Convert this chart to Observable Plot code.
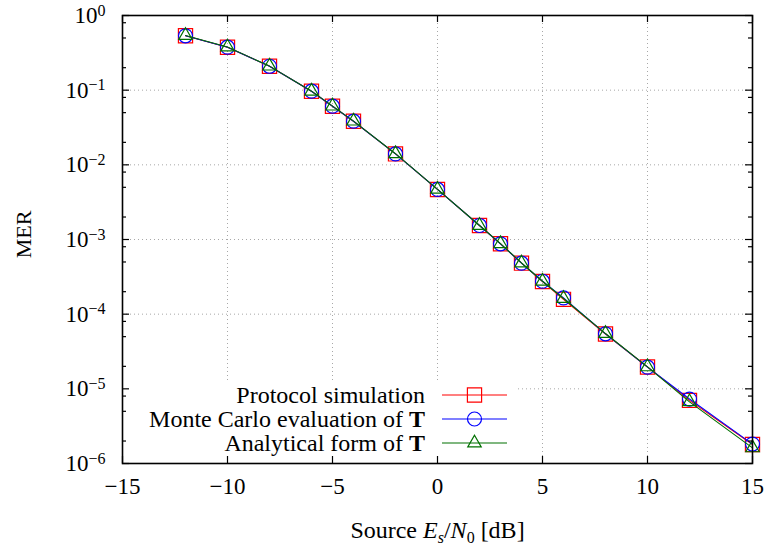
<!DOCTYPE html>
<html><head><meta charset="utf-8">
<script src="https://cdn.jsdelivr.net/npm/d3@7"></script>
<script src="https://cdn.jsdelivr.net/npm/@observablehq/plot@0.6"></script>
<style>body{margin:0;background:#fff} #chart svg{display:block}</style>
</head><body><div id="chart"></div>
<script>
// ---- data ----
const snr = [-12, -10, -8, -6, -5, -4, -2, 0, 2, 3, 4, 5, 6, 8, 10, 12, 15];
const protocolMER   = [0.535, 0.376, 0.209, 0.0969, 0.061, 0.0384, 0.0140, 0.00468, 0.00154, 0.000876, 0.000482, 0.000274, 0.000158, 5.43e-5, 1.96e-5, 7.0e-6, 1.80e-6];
const monteCarloMER = [0.535, 0.376, 0.209, 0.0969, 0.061, 0.0384, 0.0140, 0.00468, 0.00154, 0.000876, 0.000482, 0.000276, 0.000165, 5.45e-5, 1.95e-5, 7.3e-6, 1.82e-6];
const analyticalMER = [0.540, 0.378, 0.210, 0.0970, 0.0612, 0.0385, 0.0141, 0.00470, 0.00154, 0.000880, 0.000485, 0.000276, 0.000162, 5.50e-5, 1.97e-5, 6.7e-6, 1.62e-6];
const xTicks = [-15, -10, -5, 0, 5, 10, 15];
const yExponents = [-6, -5, -4, -3, -2, -1, 0];
const minorMantissas = [2, 5, 8];
const seriesNames = ["Protocol simulation", "Monte Carlo evaluation of T", "Analytical form of T"];
const seriesColors = ["#ff0000", "#0000ff", "#007000"];
const seriesSymbols = ["square", "circle", "triangle"];
const seriesValues = [protocolMER, monteCarloMER, analyticalMER];
const xLabel = "Source Es/N0 [dB]";
const yLabel = "MER";

// ---- layout ----
const W = 765, H = 545, mL = 122, mR = 13, mT = 15, mB = 82;
const innerW = W - mL - mR, innerH = H - mT - mB;
const FONT = "'Liberation Serif', 'DejaVu Serif', serif";
const seriesR = [8, 7, 5];

const yMajor = yExponents.map(e => 10 ** e);
const yMinor = yExponents.slice(0, -1).flatMap(e => minorMantissas.map(m => m * 10 ** e));

const rows = seriesNames.map((name, i) => snr.map((x, j) => ({series: name, x, y: seriesValues[i][j]})));

const gridStyle = {stroke: "#a8a8a8", strokeOpacity: 1, strokeWidth: 1, strokeDasharray: "1,3"};
const majorLen = 7, minorLen = 4;

const marks = [
  Plot.ruleX(xTicks, gridStyle),
  Plot.ruleY(yMajor, gridStyle),
  Plot.frame({fill: "white", stroke: "none", insetLeft: 2, insetRight: innerW - 393, insetTop: 365, insetBottom: 2}),
];
rows.forEach((data, i) => {
  marks.push(Plot.line(data, {x: "x", y: "y", stroke: seriesColors[i], strokeWidth: 1.1}));
  marks.push(Plot.dot(data, {x: "x", y: "y", symbol: seriesSymbols[i], r: seriesR[i], stroke: seriesColors[i], fill: "none", strokeWidth: 1.2}));
});
marks.push(
  Plot.ruleY(yMajor, {insetRight: innerW - majorLen, stroke: "black", strokeWidth: 1.2}),
  Plot.ruleY(yMajor, {insetLeft: innerW - majorLen, stroke: "black", strokeWidth: 1.2}),
  Plot.ruleY(yMinor, {insetRight: innerW - minorLen, stroke: "black", strokeWidth: 1.2}),
  Plot.ruleY(yMinor, {insetLeft: innerW - minorLen, stroke: "black", strokeWidth: 1.2}),
  Plot.ruleX(xTicks, {insetTop: innerH - majorLen, stroke: "black", strokeWidth: 1.2}),
  Plot.ruleX(xTicks, {insetBottom: innerH - majorLen, stroke: "black", strokeWidth: 1.2}),
  Plot.frame({stroke: "black", strokeWidth: 1.6}),
  Plot.axisX({ticks: xTicks, tickSize: 0, tickPadding: 14, fontSize: 23, label: xLabel, labelAnchor: "center", labelOffset: 74, labelArrow: "none"}),
  Plot.axisY({ticks: yMajor, tickSize: 0, tickPadding: 17, fontSize: 23,
    tickFormat: d => "10^" + Math.round(Math.log10(d)),
    label: yLabel, labelAnchor: "center", labelOffset: 107, labelArrow: "none"})
);

const svgEl = Plot.plot({
  width: W, height: H,
  marginLeft: mL, marginRight: mR, marginTop: mT, marginBottom: mB,
  style: {fontFamily: FONT, fontSize: "22px", color: "black", background: "white"},
  x: {domain: [-15, 15]},
  y: {type: "log", domain: [1e-6, 1]},
  marks
});
document.getElementById("chart").appendChild(svgEl);

const svg = d3.select(svgEl);
// superscript tick labels
svg.selectAll('g[aria-label="y-axis tick label"] text').each(function () {
  const t = this.textContent;
  const m = t.match(/^10\^(-?\d+)$/);
  if (!m) return;
  const e = +m[1];
  const sel = d3.select(this);
  sel.text(null);
  sel.append("tspan").text("10");
  sel.append("tspan").attr("dy", "-0.45em").attr("font-size", "16px").text((e < 0 ? "\u2212" : "") + Math.abs(e));
});
svg.selectAll('g[aria-label="y-axis label"] text').attr("font-size", "22px").attr("x", 5);
// x label with italics and subscripts
svg.selectAll('g[aria-label="x-axis label"] text').each(function () {
  const sel = d3.select(this).attr("font-size", "24px");
  sel.text(null);
  sel.append("tspan").text("Source ");
  sel.append("tspan").attr("font-style", "italic").text("E");
  sel.append("tspan").attr("font-style", "italic").attr("font-size", "16px").attr("dy", "5").text("s");
  sel.append("tspan").attr("dy", "-5").text("/");
  sel.append("tspan").attr("font-style", "italic").text("N");
  sel.append("tspan").attr("font-size", "16px").attr("dy", "5").text("0");
  sel.append("tspan").attr("dy", "-5").text(" [dB]");
});

// legend
const leg = svg.append("g").attr("font-family", FONT).attr("font-size", 24);
const symbolMap = {square: d3.symbolSquare, circle: d3.symbolCircle, triangle: d3.symbolTriangle};
seriesNames.forEach((name, i) => {
  const cy = 395 + i * 24;
  const txt = leg.append("text").attr("x", 425).attr("y", cy).attr("dy", "0.35em").attr("text-anchor", "end");
  const base = name.replace(/T$/, "");
  txt.append("tspan").text(base);
  if (base !== name) txt.append("tspan").attr("font-weight", "bold").text("T");
  leg.append("line").attr("x1", 442).attr("x2", 507).attr("y1", cy).attr("y2", cy)
    .attr("stroke", seriesColors[i]).attr("stroke-width", 1.1);
  leg.append("path").attr("transform", `translate(474.5,${cy})`)
    .attr("d", d3.symbol(symbolMap[seriesSymbols[i]], Math.PI * seriesR[i] ** 2)())
    .attr("fill", "none").attr("stroke", seriesColors[i]).attr("stroke-width", 1.2);
});
</script></body></html>
